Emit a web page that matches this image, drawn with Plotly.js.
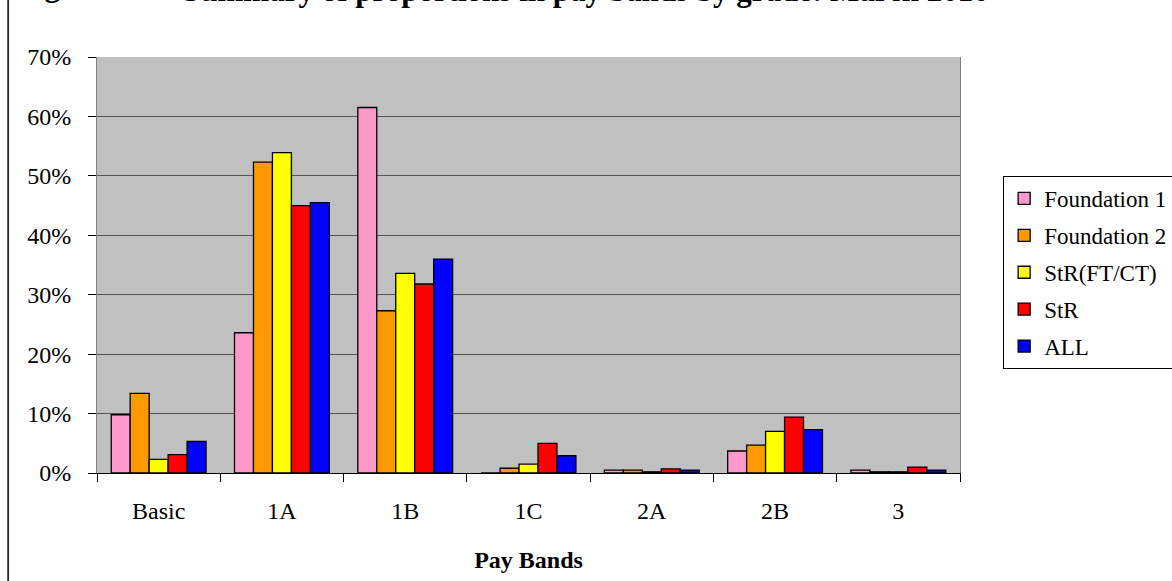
<!DOCTYPE html>
<html>
<head>
<meta charset="utf-8">
<script src="https://cdn.plot.ly/plotly-3.0.1.min.js"></script>
<style>html,body{margin:0;padding:0;background:#fff;}#chart{width:1172px;height:581px;}</style>
</head>
<body>
<div id="chart"></div>
<script>
const categories = ["Basic", "1A", "1B", "1C", "2A", "2B", "3"];
const seriesNames = ["Foundation 1", "Foundation 2", "StR(FT/CT)", "StR", "ALL"];
const foundation1 = [0.098, 0.236, 0.615, 0.000, 0.005, 0.037, 0.005];
const foundation2 = [0.134, 0.523, 0.273, 0.008, 0.005, 0.047, 0.002];
const strFtCt     = [0.023, 0.539, 0.336, 0.015, 0.002, 0.070, 0.002];
const str         = [0.031, 0.450, 0.318, 0.050, 0.007, 0.094, 0.010];
const all         = [0.053, 0.455, 0.360, 0.029, 0.005, 0.073, 0.005];
const seriesValues = [foundation1, foundation2, strFtCt, str, all];
const colors = ["#FF99CC", "#FF9900", "#FFFF00", "#FF0000", "#0000FF"];
const yTickVals = [0, 0.1, 0.2, 0.3, 0.4, 0.5, 0.6, 0.7];
const yTickText = ["0%", "10%", "20%", "30%", "40%", "50%", "60%", "70%"];
const chartTitle = "Summary of proportions in pay bands by grade: March 2010";

const FONT = "Liberation Serif, Times New Roman, serif";

const traces = seriesNames.map((name, i) => ({
  type: "bar",
  name: name,
  legendgroup: "g" + i,
  x: categories,
  y: seriesValues[i],
  marker: {color: colors[i], line: {color: "#000000", width: 1.3}},
  hoverinfo: "x+y+name"
}));

const layout = {
  width: 1172,
  height: 581,
  paper_bgcolor: "#FFFFFF",
  plot_bgcolor: "#C0C0C0",
  margin: {l: 97, r: 212, t: 57, b: 108, autoexpand: false},
  barmode: "group",
  bargap: 0.2308,
  bargroupgap: 0,
  font: {family: FONT, color: "#000000", size: 24},
  xaxis: {
    type: "category",
    tickson: "boundaries",
    ticks: "outside",
    ticklen: 8,
    tickcolor: "#000000",
    tickwidth: 1,
    showline: true,
    linecolor: "#000000",
    linewidth: 1,
    showgrid: false,
    tickfont: {family: FONT, size: 24},
    ticklabelstandoff: 16,
    title: {text: "<b>Pay Bands</b>", font: {family: FONT, size: 24}, standoff: 28}
  },
  yaxis: {
    range: [0, 0.7],
    tickvals: yTickVals,
    ticktext: yTickText,
    ticks: "outside",
    ticklen: 8,
    tickcolor: "#000000",
    showline: true,
    linecolor: "#808080",
    linewidth: 1,
    mirror: true,
    showgrid: true,
    gridcolor: "#555555",
    gridwidth: 1,
    zeroline: false,
    tickfont: {family: FONT, size: 24},
    ticklabelstandoff: 12
  },
  legend: {
    x: 1.05, xanchor: "left",
    y: 0.714, yanchor: "top",
    bgcolor: "#FFFFFF",
    bordercolor: "#000000",
    borderwidth: 1,
    font: {family: FONT, size: 23, color: "#000000"},
    tracegroupgap: 4,
    traceorder: "grouped"
  },
  annotations: [
    {text: "<b>Figure</b>", xref: "paper", yref: "paper", x: -0.095, y: 1.1707,
     xanchor: "left", yanchor: "middle", showarrow: false,
     font: {family: FONT, size: 31, color: "#000000"}},
    {text: "<b>" + chartTitle + "</b>", xref: "paper", yref: "paper", x: 0.5666, y: 1.1587,
     xanchor: "center", yanchor: "middle", showarrow: false,
     font: {family: FONT, size: 31, color: "#000000"}}
  ],
  shapes: [
    {type: "line", xref: "paper", yref: "paper", x0: -0.103, x1: -0.103, y0: -0.3, y1: 1.2,
     line: {color: "#000000", width: 1.5}}
  ]
};

Plotly.newPlot("chart", traces, layout, {displayModeBar: false, staticPlot: true});
</script>
</body>
</html>
